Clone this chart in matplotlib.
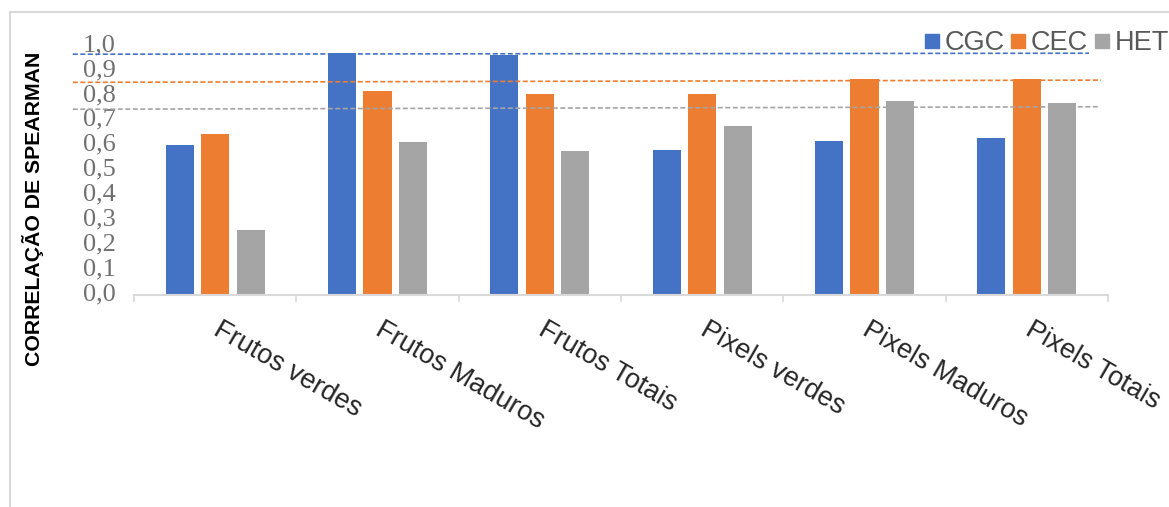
import numpy as np
import matplotlib.pyplot as plt
from matplotlib.lines import Line2D
from matplotlib.patches import Rectangle
from matplotlib.ticker import FixedLocator
from matplotlib.transforms import ScaledTranslation

categorias = ['Frutos verdes', 'Frutos Maduros', 'Frutos Totais',
              'Pixels verdes', 'Pixels Maduros', 'Pixels Totais']
series = ['CGC', 'CEC', 'HET']
cgc = [0.60, 0.97, 0.96, 0.58, 0.616, 0.627]
cec = [0.645, 0.818, 0.805, 0.805, 0.865, 0.865]
het = [0.259, 0.612, 0.576, 0.677, 0.778, 0.768]
# linhas de referencia tracejadas (inicio, fim)
ref_cgc = [0.965, 0.969]
ref_cec = [0.852, 0.861]
ref_het = [0.744, 0.754]

cores = ['#4472C4', '#ED7D31', '#A5A5A5']
cinza_texto = '#595959'

W, H = 1169, 507
fig = plt.figure(figsize=(W / 100, H / 100), dpi=100)
ax = fig.add_axes([134 / W, (H - 294.5) / H, (1108 - 134) / W, 249 / H])

x = np.arange(len(categorias))
largura = 0.173
passo = 0.219
for k, (vals, cor) in enumerate(zip([cgc, cec, het], cores)):
    ax.bar(x + (k - 1) * passo, vals, largura, color=cor, zorder=2)

# linhas tracejadas, passando por fora do eixo
x_ini = -0.877
x_fim = [5.383, 5.457, 5.444]
for ref, xf, cor in zip([ref_cgc, ref_cec, ref_het], x_fim, cores):
    ax.plot([x_ini, xf], ref, color=cor, lw=1.2, ls=(0, (3, 1.5)),
            clip_on=False, zorder=3)

ax.set_xlim(-0.5, len(categorias) - 0.5)
ax.set_ylim(0, 1.0)
ax.set_yticks(np.arange(0, 1.01, 0.1))
ax.set_yticklabels([f'{v:.1f}'.replace('.', ',') for v in np.arange(0, 1.01, 0.1)],
                   family='Liberation Serif', fontsize=19, color='#707070')
ax.tick_params(axis='y', length=0, pad=13)
for lab in ax.get_yticklabels():
    lab.set_transform(lab.get_transform() + ScaledTranslation(0, 2 / 72, fig.dpi_scale_trans))

ax.set_xticks(x)
ax.set_xticklabels(categorias, rotation=-30, ha='left', va='top',
                   rotation_mode='anchor', family='Liberation Sans',
                   fontsize=19.5, color='#262626')
ax.tick_params(axis='x', which='major', length=0, pad=16)
for lab in ax.get_xticklabels():
    lab.set_transform(lab.get_transform() + ScaledTranslation(5 / 72, 0, fig.dpi_scale_trans))
ax.xaxis.set_minor_locator(FixedLocator(np.arange(-0.5, len(categorias), 1.0)))
ax.tick_params(axis='x', which='minor', length=5, width=1.2, color='#d9d9d9')

for lado in ['top', 'right', 'left']:
    ax.spines[lado].set_visible(False)
ax.spines['bottom'].set_color('#d9d9d9')
ax.spines['bottom'].set_linewidth(1.5)

fig.text(33 / W, 1 - 208.5 / H, 'CORRELAÇÃO DE SPEARMAN', rotation=90,
         ha='center', va='center', family='Liberation Sans',
         fontweight='bold', fontsize=15.3, color='black')

alcas = [Line2D([], [], marker='s', ls='', color=c, markersize=10) for c in cores]
fig.legend(alcas, series, loc='center left', bbox_to_anchor=(925 / W, 1 - 43 / H),
           ncol=3, frameon=False, borderpad=0, borderaxespad=0,
           handlelength=0.5, handletextpad=0.22, columnspacing=0.25,
           prop={'family': 'Liberation Sans', 'size': 19.5}, labelcolor=cinza_texto)

# moldura da area do grafico
fig.patches.append(Rectangle((10 / W, -0.1), 1.2, 1.1 - 12 / H,
                             transform=fig.transFigure, fill=False,
                             edgecolor='#d9d9d9', lw=1.5))

fig.savefig('out.png', dpi=100)
